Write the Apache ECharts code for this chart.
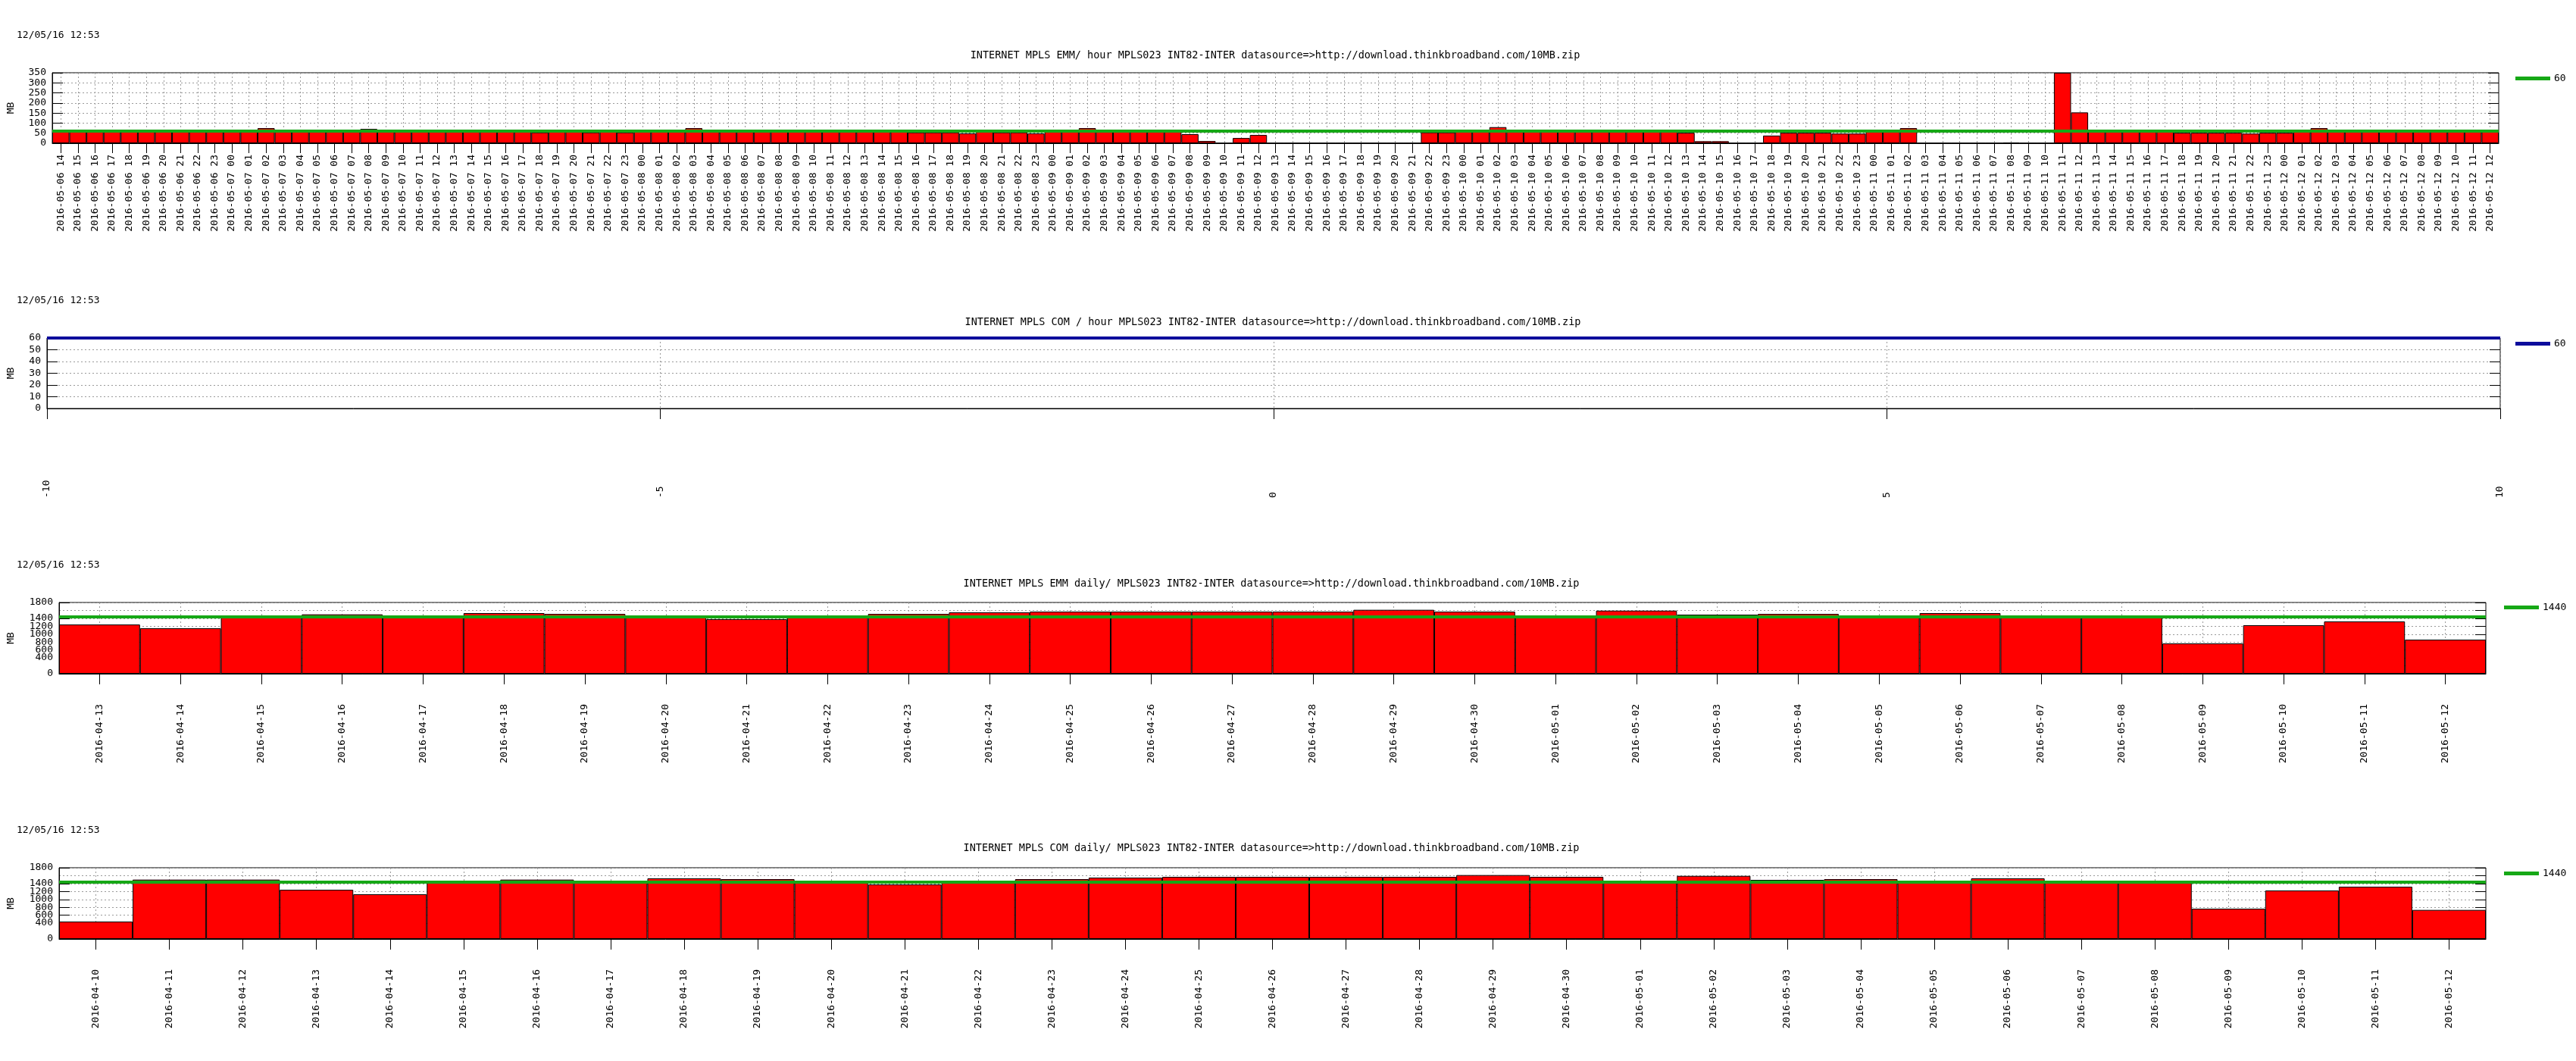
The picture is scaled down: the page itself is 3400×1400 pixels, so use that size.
<!DOCTYPE html>
<html>
<head>
<meta charset="utf-8">
<script src="https://cdn.jsdelivr.net/npm/echarts@6/dist/echarts.min.js"></script>
<style>
html,body{margin:0;padding:0;background:#fff;}
#c{width:3400px;height:1400px;}
</style>
</head>
<body>
<div id="c"></div>
<script>
// ---------- data ----------
const stamp = '12/05/16 12:53';
const panelTitles = [
  'INTERNET MPLS EMM/ hour MPLS023 INT82-INTER datasource=>http://download.thinkbroadband.com/10MB.zip',
  'INTERNET MPLS COM / hour MPLS023 INT82-INTER datasource=>http://download.thinkbroadband.com/10MB.zip',
  'INTERNET MPLS EMM daily/ MPLS023 INT82-INTER datasource=>http://download.thinkbroadband.com/10MB.zip',
  'INTERNET MPLS COM daily/ MPLS023 INT82-INTER datasource=>http://download.thinkbroadband.com/10MB.zip'
];
const yName = 'MB';

// hourly categories (2016-05-06 14 .. 2016-05-12 12)
const hourDays = ['2016-05-06','2016-05-07','2016-05-08','2016-05-09','2016-05-10','2016-05-11','2016-05-12'];
const firstHour = 14, lastHour = 12;

// EMM hourly values (MB), per day
const emmH0506 = [58,58,58,58,58,58,58,58,58,58];
const emmH0507 = [58,58,75,58,58,58,58,58,71,58,58,58,58,58,58,58,58,58,54,58,58,54,58,54];
const emmH0508 = [58,58,58,75,58,58,58,58,58,58,58,58,58,58,58,58,54,54,54,49,58,54,54,49];
const emmH0509 = [58,58,75,58,58,58,58,58,45,11,0,26,41,0,0,0,0,0,0,0,0,0,54,54];
const emmH0510 = [58,58,80,58,58,58,58,58,58,58,58,58,58,52,10,10,0,0,38,52,52,52,48,48];
const emmH0511 = [58,58,75,0,0,0,0,0,3,0,0,350,153,58,58,58,58,58,52,52,52,52,48,52];
const emmH0512 = [52,58,75,58,58,58,58,58,58,58,58,58,58];

// COM hourly: no data, numeric axis
const comHourlyX = [-10, 10];
const comHourlyXTicks = 5;

// daily categories
const emmDailyCats = ['2016-04-13','2016-04-14','2016-04-15','2016-04-16','2016-04-17','2016-04-18','2016-04-19','2016-04-20','2016-04-21','2016-04-22','2016-04-23','2016-04-24','2016-04-25','2016-04-26','2016-04-27','2016-04-28','2016-04-29','2016-04-30','2016-05-01','2016-05-02','2016-05-03','2016-05-04','2016-05-05','2016-05-06','2016-05-07','2016-05-08','2016-05-09','2016-05-10','2016-05-11','2016-05-12'];
const emmDaily = [1244,1149,1440,1500,1440,1532,1512,1440,1378,1440,1512,1551,1570,1570,1570,1570,1615,1570,1440,1595,1493,1512,1440,1532,1440,1440,766,1225,1321,862];

const comDailyCats = ['2016-04-10','2016-04-11','2016-04-12','2016-04-13','2016-04-14','2016-04-15','2016-04-16','2016-04-17','2016-04-18','2016-04-19','2016-04-20','2016-04-21','2016-04-22','2016-04-23','2016-04-24','2016-04-25','2016-04-26','2016-04-27','2016-04-28','2016-04-29','2016-04-30','2016-05-01','2016-05-02','2016-05-03','2016-05-04','2016-05-05','2016-05-06','2016-05-07','2016-05-08','2016-05-09','2016-05-10','2016-05-11','2016-05-12'];
const comDaily = [440,1500,1500,1244,1130,1440,1500,1440,1532,1512,1440,1378,1440,1512,1551,1570,1570,1570,1570,1615,1570,1440,1595,1493,1512,1440,1532,1440,1440,766,1225,1321,734];

// limits (legend values)
const limitValues = [60, 60, 1440, 1440];
const limitLabels = {lim1:'60', lim2:'60', lim3:'1440', lim4:'1440'};

// y-axis ranges
const yMax = [350, 60, 1800, 1800];
const yStep = [50, 10, 200, 200];

// ---------- build ----------
const hourlyCats = [];
hourDays.forEach((d, i) => {
  const h0 = i === 0 ? firstHour : 0;
  const h1 = i === hourDays.length - 1 ? lastHour : 23;
  for (let h = h0; h <= h1; h++) hourlyCats.push(d + ' ' + String(h).padStart(2, '0'));
});
const emmHourly = [].concat(emmH0506, emmH0507, emmH0508, emmH0509, emmH0510, emmH0511, emmH0512);

const FONT = 'DejaVu Sans Mono';
const GREEN = '#16a816';
const BLUE = '#0c0c9c';
const GRIDC = '#9a9a9a';

const grids = [
  {left: 68, top: 96, width: 3230, height: 93},
  {left: 60, top: 446, width: 3240, height: 93},
  {left: 76, top: 795, width: 3205, height: 94},
  {left: 76, top: 1145, width: 3205, height: 94}
].map(g => Object.assign(g, {show: true, borderColor: '#000', borderWidth: 1, containLabel: false}));

const dotted = {show: true, lineStyle: {color: GRIDC, width: 1, type: [2, 3]}};
const plain = v => String(v);

function catX(gi, data, tickLen, margin) {
  return {
    type: 'category', gridIndex: gi, data: data, boundaryGap: true,
    axisLine: {show: true, onZero: false, lineStyle: {color: '#000', width: 1}},
    axisTick: {show: true, alignWithLabel: true, interval: 0, length: tickLen, lineStyle: {color: '#000'}},
    axisLabel: {interval: 0, rotate: 90, margin: margin, fontFamily: FONT, fontSize: 13, color: '#000'},
    splitLine: Object.assign({interval: 0, alignWithLabel: true}, dotted)
  };
}
function yLeft(gi, gap) {
  return {
    type: 'value', gridIndex: gi, position: 'left', min: 0, max: yMax[gi], interval: yStep[gi],
    name: yName, nameLocation: 'middle', nameRotate: 90, nameGap: gap,
    nameTextStyle: {fontFamily: FONT, fontSize: 13, color: '#000'},
    axisLine: {show: true, onZero: false, lineStyle: {color: '#000', width: 1}},
    axisTick: {show: true, inside: true, length: 14, lineStyle: {color: '#000'}},
    axisLabel: {margin: 8, fontFamily: FONT, fontSize: 13, color: '#000', formatter: plain,
      showMinLabel: true, showMaxLabel: true, hideOverlap: false},
    splitLine: dotted
  };
}
function yRight(gi) {
  return {
    type: 'value', gridIndex: gi, position: 'right', min: 0, max: yMax[gi], interval: yStep[gi],
    axisLine: {show: false, onZero: false}, axisLabel: {show: false}, splitLine: {show: false},
    axisTick: {show: true, inside: true, length: 14, lineStyle: {color: '#000'}}
  };
}

const xAxes = [
  catX(0, hourlyCats, 13, 15),
  {
    type: 'value', gridIndex: 1, min: comHourlyX[0], max: comHourlyX[1], interval: comHourlyXTicks,
    axisLine: {show: true, onZero: false, lineStyle: {color: '#000', width: 1}},
    axisTick: {show: true, length: 14, lineStyle: {color: '#000'}},
    axisLabel: {rotate: 90, align: 'left', margin: 118, fontFamily: FONT, fontSize: 13, color: '#000', formatter: plain},
    splitLine: dotted
  },
  catX(2, emmDailyCats, 14, 40),
  catX(3, comDailyCats, 14, 40)
];
const yAxes = [yLeft(0, 48), yLeft(1, 41), yLeft(2, 57), yLeft(3, 57), yRight(0), yRight(1), yRight(2), yRight(3)];

const barStyle = {color: '#ff0000', borderColor: '#000', borderWidth: 1};
function bars(gi, data) {
  return {type: 'bar', xAxisIndex: gi, yAxisIndex: gi, data: data, barCategoryGap: '0%',
    itemStyle: barStyle, z: 2, silent: true};
}
function limit(gi, name, color) {
  return {
    type: 'line', name: name, xAxisIndex: gi, yAxisIndex: gi, data: [], z: 5, silent: true,
    color: color, itemStyle: {color: color}, lineStyle: {color: color, width: 4},
    markLine: {silent: true, symbol: ['none', 'none'], label: {show: false}, animation: false,
      lineStyle: {color: color, width: 4, type: 'solid'},
      emphasis: {disabled: true},
      data: [{yAxis: limitValues[gi]}]}
  };
}

const series = [
  bars(0, emmHourly), limit(0, 'lim1', GREEN),
  limit(1, 'lim2', BLUE),
  bars(2, emmDaily), limit(2, 'lim3', GREEN),
  bars(3, comDaily), limit(3, 'lim4', GREEN)
];

const stampTops = [40, 390, 739, 1089];
const titleCenters = [[1683, 66], [1680, 418], [1678, 763], [1678, 1112]];
const titles = [];
stampTops.forEach(t => titles.push({text: stamp, left: 22, top: t, padding: 0,
  textStyle: {fontFamily: FONT, fontSize: 13, fontWeight: 'normal', color: '#000'}}));
titleCenters.forEach((c, i) => titles.push({text: panelTitles[i], left: c[0], top: c[1], padding: 0, textAlign: 'center',
  textStyle: {fontFamily: FONT, fontSize: 13.5, fontWeight: 'normal', color: '#000'}}));

function legend(name, left, top) {
  return {data: [name], left: left, top: top, padding: 0, icon: 'rect', itemWidth: 46, itemHeight: 5,
    selectedMode: false, formatter: n => limitLabels[n],
    textStyle: {fontFamily: FONT, fontSize: 13, color: '#000'}};
}
const legends = [legend('lim1', 3320, 97), legend('lim2', 3320, 447), legend('lim3', 3305, 795), legend('lim4', 3305, 1146)];

const chart = echarts.init(document.getElementById('c'), null, {renderer: 'canvas'});
chart.setOption({
  backgroundColor: '#fff',
  animation: false,
  title: titles,
  legend: legends,
  grid: grids,
  xAxis: xAxes,
  yAxis: yAxes,
  series: series
});
</script>
</body>
</html>
